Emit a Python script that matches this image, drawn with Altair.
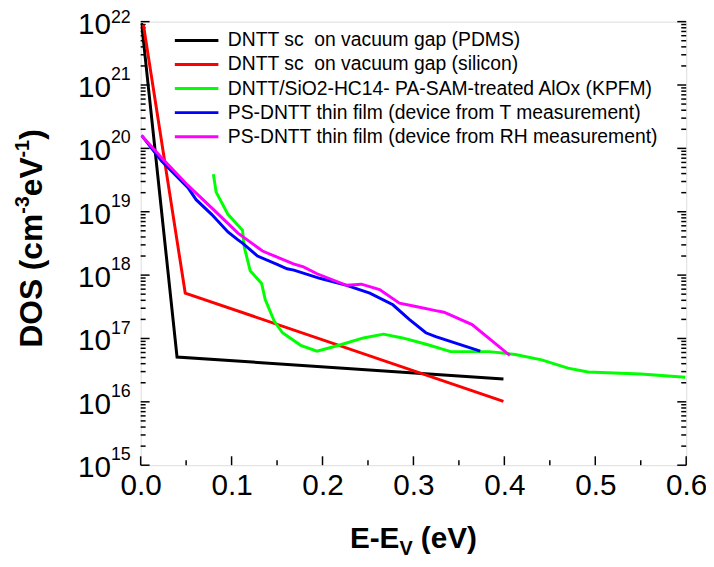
import altair as alt
import pandas as pd

# ---------------- data ----------------
series_names = [
    "DNTT sc\u00a0 on vacuum gap (PDMS)",
    "DNTT sc\u00a0 on vacuum gap (silicon)",
    "DNTT/SiO2-HC14- PA-SAM-treated AlOx (KPFM)",
    "PS-DNTT thin film (device from T measurement)",
    "PS-DNTT thin film (device from RH measurement)",
]
series_colors = ["#000000", "#ff0000", "#00ff00", "#0000ff", "#ff00ff"]

pdms_e = [0.001, 0.040, 0.399]
pdms_dos = [9.5e21, 5.1e16, 2.3e16]

si_e = [0.003, 0.049, 0.399]
si_dos = [8.9e21, 5.2e17, 1.02e16]

kpfm_e = [0.080, 0.083, 0.096, 0.112, 0.114, 0.1205, 0.133, 0.137, 0.147, 0.156,
          0.176, 0.194, 0.219, 0.245, 0.267, 0.288, 0.314, 0.341, 0.383, 0.412,
          0.441, 0.470, 0.492, 0.550, 0.599]
kpfm_dos = [3.9e19, 2.04e19, 9.1e18, 5.1e18, 2.75e18, 1.17e18, 7.4e17, 4.1e17, 1.86e17, 1.23e17,
            7.8e16, 6.3e16, 7.9e16, 1.02e17, 1.17e17, 1.02e17, 8.1e16, 6.2e16, 6.2e16, 5.6e16,
            4.6e16, 3.4e16, 2.95e16, 2.75e16, 2.45e16]

t_e = [0.001, 0.023, 0.052, 0.061, 0.078, 0.096, 0.107, 0.112, 0.1285, 0.150,
       0.161, 0.1685, 0.197, 0.2265, 0.252, 0.2774, 0.2954, 0.3136, 0.3245, 0.3735]
t_dos = [1.6e20, 6.3e19, 2.4e19, 1.55e19, 9.1e18, 4.8e18, 3.6e18, 3.2e18, 2.0e18, 1.48e18,
         1.26e18, 1.2e18, 8.9e17, 6.9e17, 5.2e17, 3.4e17, 2.0e17, 1.23e17, 1.07e17, 6.3e16]

rh_e = [0.001, 0.023, 0.052, 0.081, 0.107, 0.134, 0.168, 0.179, 0.194, 0.2265,
        0.2428, 0.2628, 0.2846, 0.3027, 0.3245, 0.3336, 0.3645, 0.406]
rh_dos = [1.6e20, 7.1e19, 2.6e19, 1.05e19, 4.6e18, 2.4e18, 1.5e18, 1.35e18, 1.05e18, 6.9e17,
          7.2e17, 5.9e17, 3.6e17, 3.2e17, 2.75e17, 2.6e17, 1.66e17, 5.4e16]

x_major = [0.0, 0.1, 0.2, 0.3, 0.4, 0.5, 0.6]
x_minor = [0.05, 0.15, 0.25, 0.35, 0.45, 0.55]
y_exponents = [15, 16, 17, 18, 19, 20, 21, 22]

# ---------------- tables ----------------
rows = []
for name, es, ds in zip(series_names, [pdms_e, si_e, kpfm_e, t_e, rh_e],
                        [pdms_dos, si_dos, kpfm_dos, t_dos, rh_dos]):
    for i, (e, d) in enumerate(zip(es, ds)):
        rows.append({"series": name, "E": e, "DOS": d, "order": i})
df = pd.DataFrame(rows)

y_major = [10.0 ** k for k in y_exponents]
y_minor = [m * 10.0 ** k for k in y_exponents[:-1] for m in range(2, 10)]
ymaj_df = pd.DataFrame({"DOS": y_major, "exp": [str(k) for k in y_exponents],
                        "base": ["10"] * len(y_exponents)})
ymin_df = pd.DataFrame({"DOS": y_minor})
xmaj_df = pd.DataFrame({"E": x_major})
xmin_df = pd.DataFrame({"E": x_minor})

W, H = 551, 448
FONT = "Liberation Sans"
TICKFONT = 30

xscale = alt.Scale(domain=[0, 0.6], nice=False, zero=False)
yscale = alt.Scale(type="log", domain=[1e15, 1e22], nice=False)
x_axis = alt.Axis(values=x_major, format=".1f", labelFontSize=TICKFONT, labelFont=FONT,
                  labelColor="black", domain=False, ticks=False, grid=False,
                  title=None, labelPadding=6, labelFlush=False)

lines = alt.Chart(df).mark_line(strokeWidth=3, clip=True).encode(
    x=alt.X("E:Q", scale=xscale, axis=x_axis),
    y=alt.Y("DOS:Q", scale=yscale, axis=None),
    color=alt.Color("series:N", scale=alt.Scale(domain=series_names, range=series_colors),
                    legend=alt.Legend(title=None, orient="none", legendX=33, legendY=7,
                                      symbolType="stroke", symbolSize=1936, symbolStrokeWidth=3,
                                      labelFontSize=19.5, labelFont=FONT, labelColor="black",
                                      labelOffset=8, clipHeight=24, rowPadding=0.3, padding=0,
                                      labelLimit=700)),
    order="order:Q",
)

def yrule(data, x0, x1):
    return alt.Chart(data).mark_rule(color="black", strokeWidth=1.5).encode(
        y=alt.Y("DOS:Q", scale=yscale, axis=None), x=alt.value(x0), x2=alt.value(x1))

def xrule(data, y0, y1):
    return alt.Chart(data).mark_rule(color="black", strokeWidth=1.5).encode(
        x=alt.X("E:Q", scale=xscale, axis=x_axis), y=alt.value(y0), y2=alt.value(y1))

ticks = [
    yrule(ymaj_df, 0, 9), yrule(ymin_df, 0, 5),
    yrule(ymaj_df, W - 9, W), yrule(ymin_df, W - 5, W),
    xrule(xmaj_df, H, H - 9), xrule(xmin_df, H, H - 5),
]

ylab_base = alt.Chart(ymaj_df).mark_text(align="right", baseline="middle", fontSize=TICKFONT,
                                         font=FONT, dy=3).encode(
    y=alt.Y("DOS:Q", scale=yscale, axis=None), x=alt.value(-30), text="base:N")
ylab_exp = alt.Chart(ymaj_df[ymaj_df["exp"] != "22"]).mark_text(
    align="right", baseline="middle", fontSize=18, font=FONT, dy=-10).encode(
    y=alt.Y("DOS:Q", scale=yscale, axis=None), x=alt.value(-10), text="exp:N")
ylab_exp_top = alt.Chart(ymaj_df[ymaj_df["exp"] == "22"]).mark_text(
    align="right", baseline="middle", fontSize=18, font=FONT, dy=-4).encode(
    y=alt.Y("DOS:Q", scale=yscale, axis=None), x=alt.value(-10), text="exp:N")

# ---- axis titles built from pieces (super/subscripts) ----
def piece(text, size, x, y, angle=0):
    return alt.Chart(pd.DataFrame({"t": [text]})).mark_text(
        align="left", baseline="alphabetic", fontSize=size, font=FONT,
        fontWeight="bold", angle=angle).encode(text="t:N", x=alt.value(x), y=alt.value(y))

# Arial bold advance widths (em)
wid = {"D": .722, "O": .778, "S": .667, " ": .278, "(": .333, "c": .556,
       "m": .889, "e": .556, "V": .667, ")": .333, "-": .333, "3": .556, "1": .556, "E": .667}
def tw(s, size):
    return sum(wid[ch] for ch in s) * size

FY, FYs = 32, 20
ypieces = [("DOS (cm", FY, 0), ("-3", FYs, -13), ("eV", FY, 0), ("-1", FYs, -13), (")", FY, 0)]
total = sum(tw(t, f) for t, f, _ in ypieces)
ycur = 219 + total / 2
ytitle = []
for t, f, off in ypieces:
    ytitle.append(piece(t, f, -100 + off, ycur, angle=270))
    ycur -= tw(t, f)

FX, FXs = 30, 20
xpieces = [("E-E", FX, 0, 0), ("V", FXs, 7, 0), ("(eV)", FX, 0, tw(" ", FX))]
total = sum(tw(t, f) + gap for t, f, _, gap in xpieces)
xcur = W / 2 - total / 2
xtitle = []
for t, f, off, gap in xpieces:
    xcur += gap
    xtitle.append(piece(t, f, xcur, H + 84 + off))
    xcur += tw(t, f)

chart = alt.layer(*ticks, lines, ylab_base, ylab_exp, ylab_exp_top, *ytitle, *xtitle).properties(
    width=W, height=H,
    autosize=alt.AutoSizeParams(type="none"),
    padding={"left": 134, "top": 11, "right": 20, "bottom": 96},
).configure_view(stroke="black", strokeWidth=2).configure(font=FONT, background="white")

chart.save("out.html", embed_options={"renderer": "svg", "actions": False})
